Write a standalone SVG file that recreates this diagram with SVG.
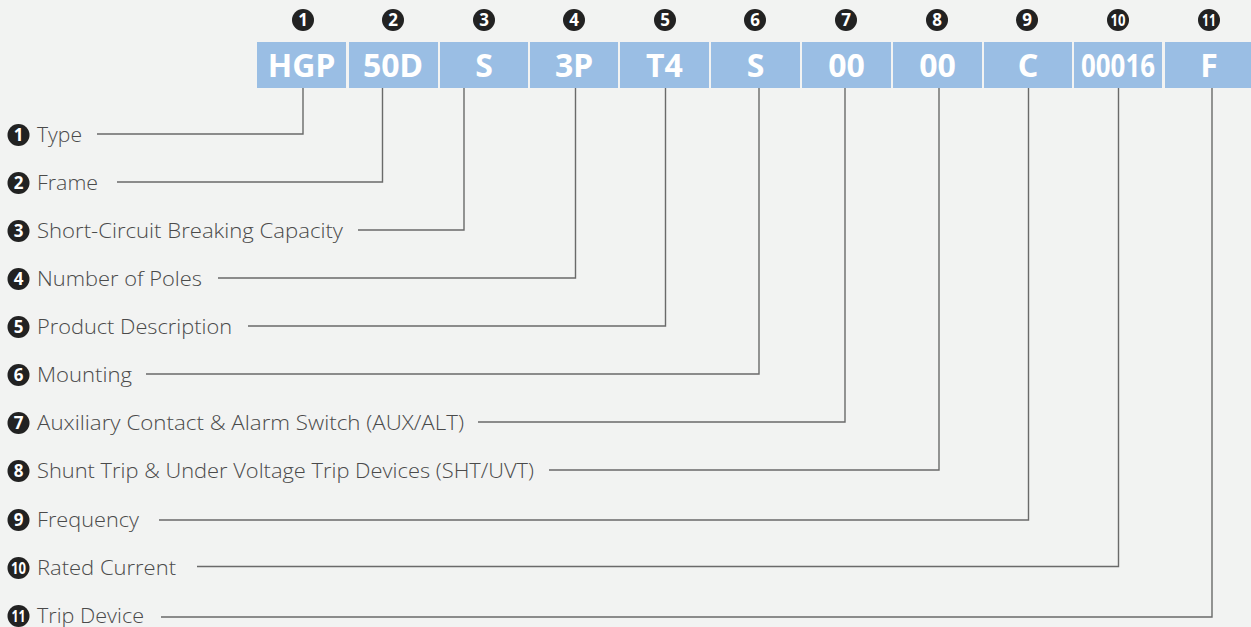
<svg xmlns="http://www.w3.org/2000/svg" width="1251" height="627" viewBox="0 0 1251 627">
<style>
.bg{fill:#f2f3f2}
.box{fill:#9abee4}
.bt{font-family:"Noto Sans","Liberation Sans",sans-serif;font-weight:bold;font-size:32px;fill:#fff;text-anchor:middle}
.dot{fill:#222}
.dn{font-family:"Noto Sans","Liberation Sans",sans-serif;font-weight:bold;font-size:17px;fill:#fff;text-anchor:middle}
.dn2{font-family:"Noto Sans","Liberation Sans",sans-serif;font-weight:bold;font-size:16px;fill:#fff;text-anchor:middle}
.lb{font-family:"Open Sans","Noto Sans","Liberation Sans",sans-serif;font-weight:300;font-size:20.5px;fill:#4a4a4a}
.ln{fill:none;stroke:#6a6a6a;stroke-width:1.4}
</style>
<rect class="bg" x="0" y="0" width="1251" height="627"/>
<g id="code">
<g id="n1"><circle class="dot" cx="303" cy="20" r="11"/><text class="dn" x="303" y="26">1</text><rect class="box" x="257" y="42" width="89" height="46"/><text class="bt" x="301.5" y="76.5">HGP</text></g>
<g id="n2"><circle class="dot" cx="393" cy="20" r="11"/><text class="dn" x="393" y="26">2</text><rect class="box" x="349" y="42" width="89" height="46"/><text class="bt" x="393" y="76.5">50D</text></g>
<g id="n3"><circle class="dot" cx="484" cy="20" r="11"/><text class="dn" x="484" y="26">3</text><rect class="box" x="440" y="42" width="88" height="46"/><text class="bt" x="484" y="76.5">S</text></g>
<g id="n4"><circle class="dot" cx="574" cy="20" r="11"/><text class="dn" x="574" y="26">4</text><rect class="box" x="530" y="42" width="88" height="46"/><text class="bt" x="574" y="76.5">3P</text></g>
<g id="n5"><circle class="dot" cx="665" cy="20" r="11"/><text class="dn" x="665" y="26">5</text><rect class="box" x="620" y="42" width="89" height="46"/><text class="bt" x="664.5" y="76.5">T4</text></g>
<g id="n6"><circle class="dot" cx="755" cy="20" r="11"/><text class="dn" x="755" y="26">6</text><rect class="box" x="711" y="42" width="89" height="46"/><text class="bt" x="755.5" y="76.5">S</text></g>
<g id="n7"><circle class="dot" cx="846" cy="20" r="11"/><text class="dn" x="846" y="26">7</text><rect class="box" x="802" y="42" width="89" height="46"/><text class="bt" x="846.5" y="76.5">00</text></g>
<g id="n8"><circle class="dot" cx="937" cy="20" r="11"/><text class="dn" x="937" y="26">8</text><rect class="box" x="893" y="42" width="89" height="46"/><text class="bt" x="937.5" y="76.5">00</text></g>
<g id="n9"><circle class="dot" cx="1027" cy="20" r="11"/><text class="dn" x="1027" y="26">9</text><rect class="box" x="984" y="42" width="88" height="46"/><text class="bt" x="1028" y="76.5">C</text></g>
<g id="n10"><circle class="dot" cx="1118" cy="20" r="11"/><text class="dn2" x="1118" y="25.5" textLength="15" lengthAdjust="spacingAndGlyphs">10</text><rect class="box" x="1074" y="42" width="88" height="46"/><text class="bt" x="1118" y="76.5" textLength="74" lengthAdjust="spacingAndGlyphs">00016</text></g>
<g id="n11"><circle class="dot" cx="1209" cy="20" r="11"/><text class="dn2" x="1209" y="25.5" textLength="14" lengthAdjust="spacingAndGlyphs">11</text><rect class="box" x="1165" y="42" width="86" height="46"/><text class="bt" x="1209" y="76.5">F</text></g>
</g>
<g id="labels">
<g id="l1"><circle class="dot" cx="18.5" cy="135" r="11"/><text class="dn" x="18.5" y="141">1</text><text class="lb" x="37" y="141.5" textLength="45" lengthAdjust="spacingAndGlyphs">Type</text></g>
<g id="l2"><circle class="dot" cx="18.5" cy="183" r="11"/><text class="dn" x="18.5" y="189">2</text><text class="lb" x="37" y="189.5" textLength="61" lengthAdjust="spacingAndGlyphs">Frame</text></g>
<g id="l3"><circle class="dot" cx="18.5" cy="231" r="11"/><text class="dn" x="18.5" y="237">3</text><text class="lb" x="37" y="237.5" textLength="306" lengthAdjust="spacingAndGlyphs">Short-Circuit Breaking Capacity</text></g>
<g id="l4"><circle class="dot" cx="18.5" cy="279" r="11"/><text class="dn" x="18.5" y="285">4</text><text class="lb" x="37" y="285.5" textLength="165" lengthAdjust="spacingAndGlyphs">Number of Poles</text></g>
<g id="l5"><circle class="dot" cx="18.5" cy="327" r="11"/><text class="dn" x="18.5" y="333">5</text><text class="lb" x="37" y="333.5" textLength="195" lengthAdjust="spacingAndGlyphs">Product Description</text></g>
<g id="l6"><circle class="dot" cx="18.5" cy="375" r="11"/><text class="dn" x="18.5" y="381">6</text><text class="lb" x="37" y="381.5" textLength="95" lengthAdjust="spacingAndGlyphs">Mounting</text></g>
<g id="l7"><circle class="dot" cx="18.5" cy="423" r="11"/><text class="dn" x="18.5" y="429">7</text><text class="lb" x="37" y="429.5" textLength="427" lengthAdjust="spacingAndGlyphs">Auxiliary Contact &amp; Alarm Switch (AUX/ALT)</text></g>
<g id="l8"><circle class="dot" cx="18.5" cy="471" r="11"/><text class="dn" x="18.5" y="477">8</text><text class="lb" x="37" y="477.5" textLength="497" lengthAdjust="spacingAndGlyphs">Shunt Trip &amp; Under Voltage Trip Devices (SHT/UVT)</text></g>
<g id="l9"><circle class="dot" cx="18.5" cy="520" r="11"/><text class="dn" x="18.5" y="526">9</text><text class="lb" x="37" y="526.5" textLength="102" lengthAdjust="spacingAndGlyphs">Frequency</text></g>
<g id="l10"><circle class="dot" cx="18.5" cy="568" r="11"/><text class="dn2" x="18.5" y="573.5" textLength="15" lengthAdjust="spacingAndGlyphs">10</text><text class="lb" x="37" y="574.5" textLength="139" lengthAdjust="spacingAndGlyphs">Rated Current</text></g>
<g id="l11"><circle class="dot" cx="18.5" cy="616" r="11"/><text class="dn2" x="18.5" y="621.5" textLength="14" lengthAdjust="spacingAndGlyphs">11</text><text class="lb" x="37" y="622.5" textLength="107" lengthAdjust="spacingAndGlyphs">Trip Device</text></g>
</g>
<g id="connectors">
<polyline class="ln" points="97,134 303,134 303,88"/>
<polyline class="ln" points="117,182 382.5,182 382.5,88"/>
<polyline class="ln" points="358,230 464,230 464,88"/>
<polyline class="ln" points="218,278 575.5,278 575.5,88"/>
<polyline class="ln" points="248,326 665.5,326 665.5,88"/>
<polyline class="ln" points="146,374 759,374 759,88"/>
<polyline class="ln" points="478,422 845,422 845,88"/>
<polyline class="ln" points="549,470 939,470 939,88"/>
<polyline class="ln" points="159,520 1028.5,520 1028.5,88"/>
<polyline class="ln" points="197,566.5 1118.5,566.5 1118.5,88"/>
<polyline class="ln" points="161,617 1212,617 1212,88"/>
</g>
</svg>
